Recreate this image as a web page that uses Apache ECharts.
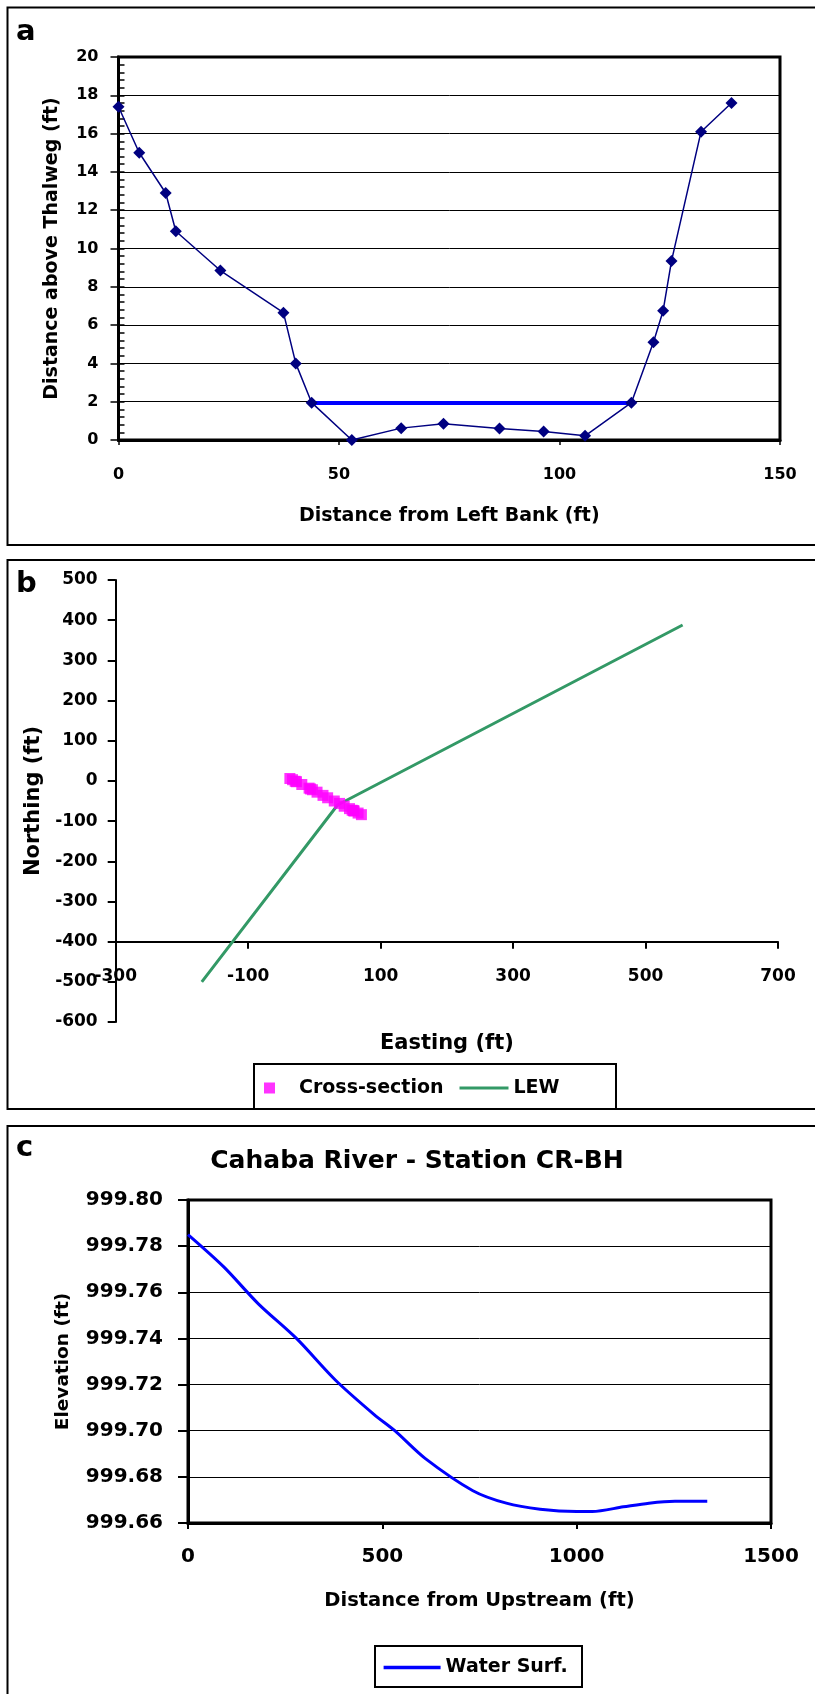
<!DOCTYPE html>
<html><head><meta charset="utf-8">
<script src="https://cdn.jsdelivr.net/npm/echarts@6/dist/echarts.min.js"></script>
<style>html,body{margin:0;padding:0;background:#fff}#c{width:815px;height:1694px}</style>
</head><body><div id="c"></div>
<script>
// ---- Panel a: channel cross-section profile ----
const profileDist = [0, 4.7, 10.7, 13.0, 23.1, 37.4, 40.2, 43.8, 52.9, 64.1, 73.7, 86.4, 96.4, 105.8, 116.3, 121.3, 123.5, 125.4, 132.1, 139.0];
const profileElev = [17.4, 15.0, 12.9, 10.9, 8.85, 6.65, 4.0, 1.95, 0, 0.62, 0.85, 0.6, 0.44, 0.22, 1.95, 5.1, 6.75, 9.35, 16.1, 17.6];
const waterDist = [43.8, 116.3];
const waterElev = [1.93, 1.93];
const aXTicks = [0, 50, 100, 150];
const aYTicks = [0, 2, 4, 6, 8, 10, 12, 14, 16, 18, 20];

// ---- Panel b: plan view ----
const xsEasting = [-37, -33, -29, -27, -19, -8, -6, -3, 4, 13, 20, 30, 38, 45, 53, 57, 59, 60, 66, 71];
const xsNorthing = [6, 3, -1, -2, -9, -18, -20, -22, -28, -36, -42, -50, -56, -63, -69, -73, -74, -75, -80, -84];
const lewEasting = [-170, 35, 556];
const lewNorthing = [-500, -60, 388];
const bXTicks = [-300, -100, 100, 300, 500, 700];
const bYTicks = [-600, -500, -400, -300, -200, -100, 0, 100, 200, 300, 400, 500];
const bXAxisCross = -400;

// ---- Panel c: water surface profile ----
const wsDist = [0, 92, 181, 279, 379, 479, 532, 610, 733, 819, 906, 1000, 1040, 1120, 1186, 1253, 1336];
const wsElev = [999.785, 999.771, 999.755, 999.740, 999.722, 999.707, 999.700, 999.688, 999.674, 999.6686, 999.666, 999.665, 999.665, 999.667, 999.6686, 999.6694, 999.6694];
const cXTicks = [0, 500, 1000, 1500];
const cYTicks = [999.66, 999.68, 999.70, 999.72, 999.74, 999.76, 999.78, 999.80];

const FF = 'DejaVu Sans';
const zip = (a, b) => a.map((v, i) => [v, b[i]]);
const first = a => a[0], last = a => a[a.length - 1];
const step = a => a[1] - a[0];
const lbl = (size, margin, extra) => Object.assign({color: '#000', fontFamily: FF, fontWeight: 'bold', fontSize: size, margin: margin, showMinLabel: true, showMaxLabel: true, formatter: v => String(v)}, extra || {});
const nameStyle = size => ({color: '#000', fontFamily: FF, fontWeight: 'bold', fontSize: size});

const gridB = {left: 115.7, top: 580, width: 662.3, height: 442};
const bOffset = -gridB.height * (bXAxisCross - first(bYTicks)) / (last(bYTicks) - first(bYTicks));

const chart = echarts.init(document.getElementById('c'), null, {renderer: 'canvas'});
chart.setOption({
  animation: false,
  backgroundColor: '#fff',
  title: [{
    text: 'Cahaba River - Station CR-BH', left: 417, top: 1149, textAlign: 'center', padding: 0,
    textStyle: {fontFamily: FF, fontWeight: 'bold', fontSize: 25, color: '#000'}
  }],
  grid: [
    {left: 118.5, top: 57, width: 661.5, height: 383, show: true, borderColor: '#000', borderWidth: 3, containLabel: false},
    Object.assign({show: false, containLabel: false}, gridB),
    {left: 188, top: 1200, width: 583, height: 323, show: true, borderColor: '#000', borderWidth: 3, containLabel: false}
  ],
  xAxis: [
    {gridIndex: 0, type: 'value', min: first(aXTicks), max: last(aXTicks), interval: step(aXTicks),
      axisLine: {onZero: false, lineStyle: {color: '#000', width: 3}},
      axisTick: {length: 5, lineStyle: {color: '#000', width: 1.5}},
      axisLabel: lbl(16, 27), splitLine: {show: false},
      name: 'Distance from Left Bank (ft)', nameLocation: 'middle', nameGap: 67, nameTextStyle: nameStyle(19)},
    {gridIndex: 1, type: 'value', min: first(bXTicks), max: last(bXTicks), interval: step(bXTicks), offset: bOffset,
      axisLine: {onZero: false, lineStyle: {color: '#000', width: 2}},
      axisTick: {length: 7, lineStyle: {color: '#000', width: 2}},
      axisLabel: lbl(17, 26), splitLine: {show: false},
      name: 'Easting (ft)', nameLocation: 'middle', nameGap: 91, nameTextStyle: nameStyle(21)},
    {gridIndex: 2, type: 'value', min: first(cXTicks), max: last(cXTicks), interval: step(cXTicks),
      axisLine: {onZero: false, lineStyle: {color: '#000', width: 3}},
      axisTick: {length: 6, lineStyle: {color: '#000', width: 2}},
      axisLabel: lbl(20, 24), splitLine: {show: false},
      name: 'Distance from Upstream (ft)', nameLocation: 'middle', nameGap: 68, nameTextStyle: nameStyle(19.5)}
  ],
  yAxis: [
    {gridIndex: 0, type: 'value', position: 'left', min: first(aYTicks), max: last(aYTicks), interval: step(aYTicks),
      axisLine: {onZero: false, lineStyle: {color: '#000', width: 3}},
      axisTick: {length: 8, lineStyle: {color: '#000', width: 1.5}},
      axisLabel: lbl(16, 20), splitLine: {show: true, lineStyle: {color: '#000', width: 1}},
      name: 'Distance above Thalweg (ft)', nameLocation: 'middle', nameGap: 57, nameRotate: 90, nameTextStyle: nameStyle(19)},
    {gridIndex: 0, type: 'value', position: 'left', min: first(aYTicks), max: last(aYTicks), interval: step(aYTicks) / 5,
      axisLine: {show: false, onZero: false},
      axisTick: {inside: true, length: 6, lineStyle: {color: '#000', width: 1.5}},
      axisLabel: {show: false}, splitLine: {show: false}},
    {gridIndex: 1, type: 'value', position: 'left', min: first(bYTicks), max: last(bYTicks), interval: step(bYTicks),
      axisLine: {onZero: false, lineStyle: {color: '#000', width: 2}},
      axisTick: {length: 8, lineStyle: {color: '#000', width: 2}},
      axisLabel: lbl(17, 18), splitLine: {show: false},
      name: 'Northing (ft)', nameLocation: 'middle', nameGap: 72, nameRotate: 90, nameTextStyle: nameStyle(21)},
    {gridIndex: 2, type: 'value', position: 'left', min: first(cYTicks), max: last(cYTicks), interval: 0.02,
      axisLine: {onZero: false, lineStyle: {color: '#000', width: 3}},
      axisTick: {length: 10, lineStyle: {color: '#000', width: 2}},
      axisLabel: lbl(20, 25, {formatter: v => v.toFixed(2)}), splitLine: {show: true, lineStyle: {color: '#000', width: 1}},
      name: 'Elevation (ft)', nameLocation: 'middle', nameGap: 115, nameRotate: 90, nameTextStyle: nameStyle(18.5)}
  ],
  legend: [
    {data: [{name: 'Cross-section', icon: 'path://M0,0H10V10H0Z'}, {name: 'LEW', icon: 'path://M0,0H49V3H0Z'}],
      left: 264, top: 1078.5, padding: 0, itemWidth: 49, itemHeight: 11, itemGap: 16, selectedMode: false,
      textStyle: {fontFamily: FF, fontWeight: 'bold', fontSize: 19, color: '#000'}},
    {data: [{name: 'Water Surf.', icon: 'path://M0,0H57V3.5H0Z'}], left: 383.6, top: 1658, padding: 0, itemWidth: 57, itemHeight: 14, selectedMode: false,
      textStyle: {fontFamily: FF, fontWeight: 'bold', fontSize: 19, color: '#000'}}
  ],
  series: [
    {name: 'Water level', type: 'line', xAxisIndex: 0, yAxisIndex: 0, data: zip(waterDist, waterElev),
      symbol: 'none', lineStyle: {color: '#0000ff', width: 4}, z: 2, silent: true},
    {name: 'Profile', type: 'line', xAxisIndex: 0, yAxisIndex: 0, data: zip(profileDist, profileElev),
      symbol: 'diamond', symbolSize: 12, itemStyle: {color: '#000080'}, lineStyle: {color: '#000080', width: 1.5}, z: 3},
    {name: 'LEW', type: 'line', xAxisIndex: 1, yAxisIndex: 2, data: zip(lewEasting, lewNorthing),
      symbol: 'none', itemStyle: {color: '#339966'}, lineStyle: {color: '#339966', width: 3}, z: 2},
    {name: 'Cross-section', type: 'scatter', xAxisIndex: 1, yAxisIndex: 2, data: zip(xsEasting, xsNorthing),
      symbol: 'rect', symbolSize: 11, itemStyle: {color: '#ff00ff'}, z: 3},
    {name: 'Water Surf.', type: 'line', xAxisIndex: 2, yAxisIndex: 3, data: zip(wsDist, wsElev),
      symbol: 'none', smooth: 0.3, lineStyle: {color: '#0000ff', width: 3}, itemStyle: {color: '#0000ff'}}
  ],
  graphic: [
    {type: 'rect', shape: {x: 7.5, y: 7.5, width: 830, height: 537.5}, style: {fill: 'none', stroke: '#000', lineWidth: 2}, z: 50},
    {type: 'rect', shape: {x: 7.5, y: 560, width: 830, height: 549}, style: {fill: 'none', stroke: '#000', lineWidth: 2}, z: 50},
    {type: 'rect', shape: {x: 7.5, y: 1126, width: 830, height: 700}, style: {fill: 'none', stroke: '#000', lineWidth: 2}, z: 50},
    {type: 'rect', shape: {x: 254, y: 1064, width: 362, height: 45}, style: {fill: 'none', stroke: '#000', lineWidth: 2}, z: 50},
    {type: 'rect', shape: {x: 375, y: 1646, width: 207, height: 41}, style: {fill: 'none', stroke: '#000', lineWidth: 2}, z: 50},
    {type: 'text', x: 16, y: 18, style: {text: 'a', fontFamily: FF, fontWeight: 'bold', fontSize: 29, fill: '#000'}, z: 50},
    {type: 'text', x: 16, y: 570, style: {text: 'b', fontFamily: FF, fontWeight: 'bold', fontSize: 29, fill: '#000'}, z: 50},
    {type: 'text', x: 16, y: 1134, style: {text: 'c', fontFamily: FF, fontWeight: 'bold', fontSize: 29, fill: '#000'}, z: 50}
  ]
});
</script>
</body></html>
